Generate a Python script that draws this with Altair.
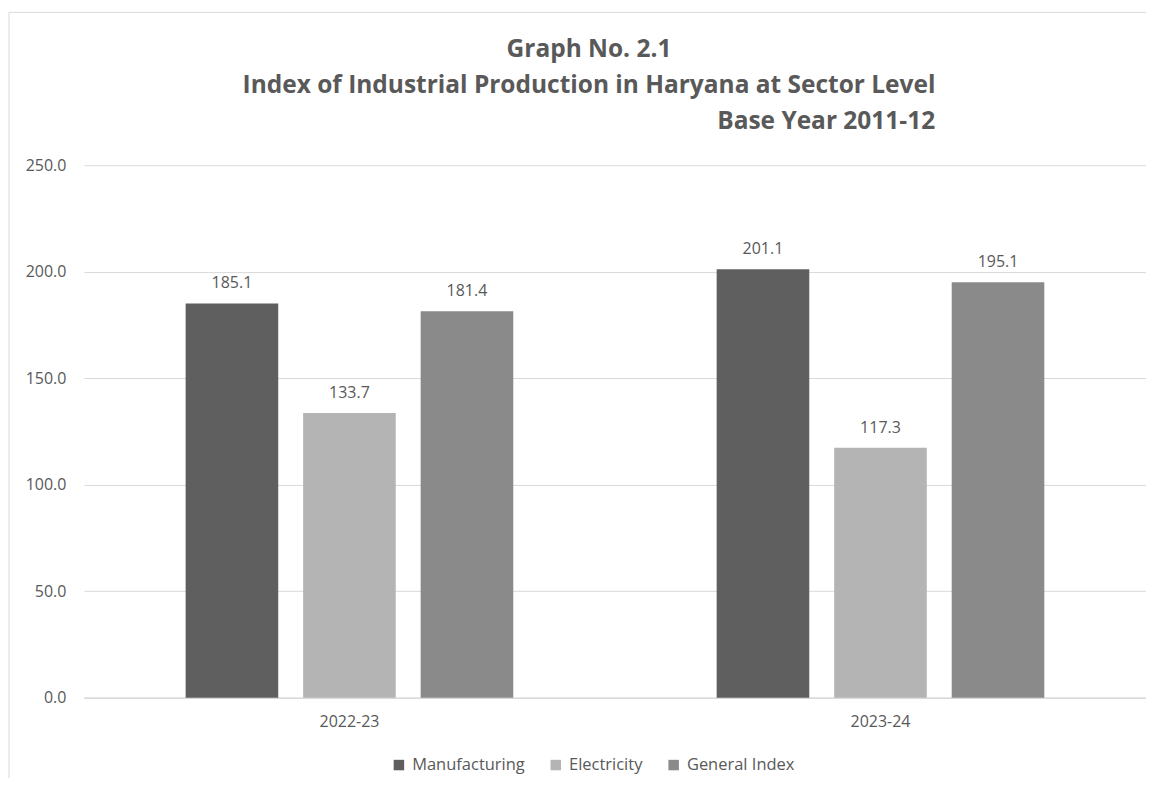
import altair as alt
import pandas as pd

years = ["2022-23", "2023-24"]
sectors = ["Manufacturing", "Electricity", "General Index"]
manufacturing = [185.1, 201.1]
electricity = [133.7, 117.3]
general_index = [181.4, 195.1]
colors = ["#5f5f5f", "#b4b4b4", "#8a8a8a"]
y_ticks = [0, 50, 100, 150, 200, 250]
title_lines = [
    "Graph No. 2.1",
    "Index of Industrial Production in Haryana at Sector Level",
    "Base Year 2011-12",
]

rows = []
for i, yr in enumerate(years):
    for s, vals in zip(sectors, [manufacturing, electricity, general_index]):
        rows.append({"year": yr, "sector": s, "value": vals[i]})
df = pd.DataFrame(rows)

W, H = 1063, 533
TEXT = "#595959"
FONT = "Open Sans"
TFONT = "Open Sans"
GRID = "#d9d9d9"

x = alt.X(
    "year:N", sort=years, title=None,
    scale=alt.Scale(paddingInner=0.383, paddingOuter=0.1915),
    axis=alt.Axis(labelAngle=0, ticks=False, domain=True, domainColor=GRID,
                  domainWidth=1.5, labelPadding=16, labelFont=FONT,
                  labelFontSize=16, labelColor=TEXT, grid=False),
)
xo = alt.XOffset("sector:N", sort=sectors,
                 scale=alt.Scale(paddingInner=0.212, paddingOuter=0))
y = alt.Y(
    "value:Q", title=None, scale=alt.Scale(domain=[0, 250]),
    axis=alt.Axis(values=y_ticks, format=".1f", domain=False, ticks=False,
                  labelPadding=18, gridColor=GRID, gridWidth=1,
                  labelFont=FONT, labelFontSize=16, labelColor=TEXT),
)
color = alt.Color(
    "sector:N", sort=sectors,
    scale=alt.Scale(domain=sectors, range=colors),
    legend=alt.Legend(title=None, orient="none", legendX=307, legendY=592,
                      direction="horizontal", symbolType="square",
                      symbolSize=110, symbolStrokeWidth=0, labelFont=FONT,
                      labelFontSize=16.5, labelColor=TEXT, columnPadding=22,
                      labelOffset=5),
)

base = alt.Chart(df)
bars = base.mark_bar().encode(x=x, xOffset=xo, y=y, color=color)
labels = base.mark_text(dy=-15, baseline="alphabetic", font=FONT, fontSize=16,
                        color=TEXT).encode(
    x=x, xOffset=xo, y=y, text=alt.Text("value:Q", format=".1f"))

def title_text(t, px, py, align):
    return alt.Chart(alt.Data(values=[{"t": t}])).mark_text(
        font=TFONT, fontSize=24.5, fontWeight="bold", color=TEXT,
        align=align, baseline="alphabetic",
    ).encode(x=alt.value(px), y=alt.value(py), text="t:N")

t1 = title_text(title_lines[0], 505.5, -108, "center")
t2 = title_text(title_lines[1], 505.5, -72, "center")
t3 = title_text(title_lines[2], 852, -36, "right")

border = alt.Chart(alt.Data(values=[{}])).mark_rect(
    fillOpacity=0, stroke=GRID, strokeWidth=1).encode(
    x=alt.value(-75), x2=alt.value(1200), y=alt.value(-153), y2=alt.value(800))

chart = alt.layer(border, bars, labels, t1, t2, t3).properties(
    width=W, height=H,
    autosize=alt.AutoSizeParams(type="none"),
    padding={"left": 76, "top": 157, "right": 0, "bottom": 80},
).configure_view(strokeWidth=0)

chart.save("out.html", embed_options={"renderer": "svg", "actions": False})
